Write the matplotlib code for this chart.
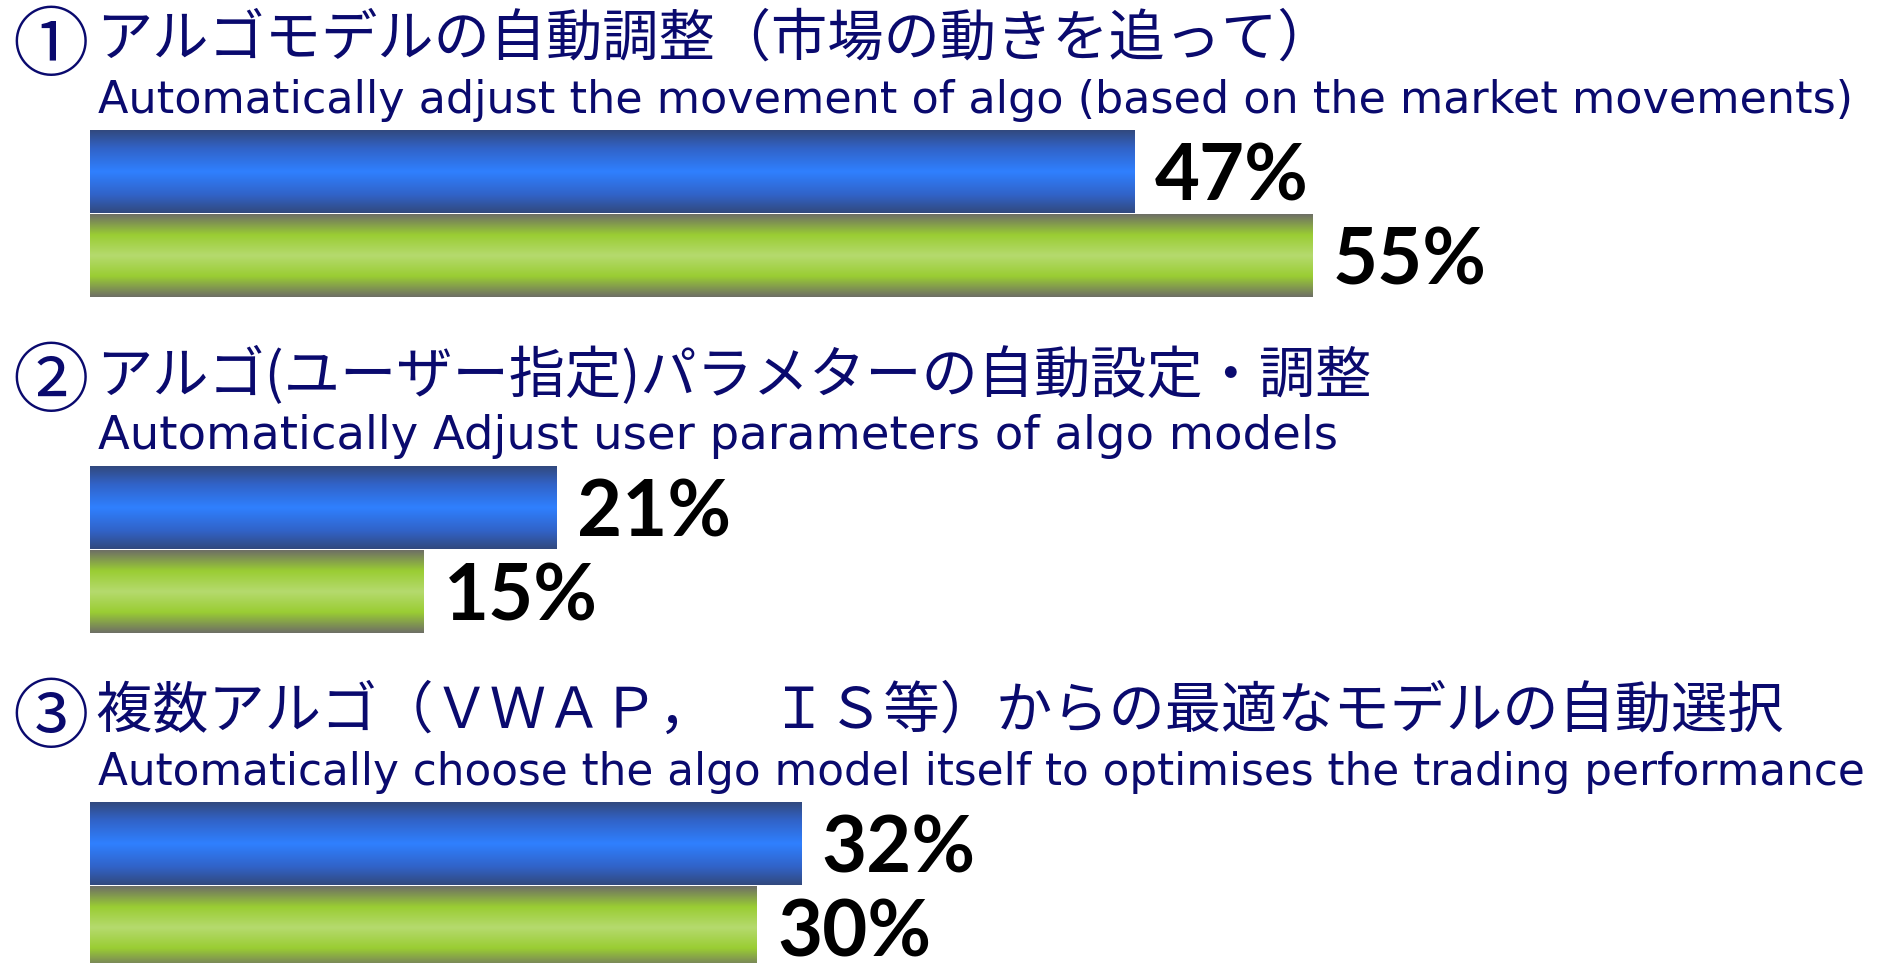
import numpy as np
import matplotlib
matplotlib.use("Agg")
import matplotlib.pyplot as plt
from matplotlib.colors import LinearSegmentedColormap
from matplotlib import transforms

plt.rcParams['font.family'] = ['Noto Sans CJK JP', 'DejaVu Sans']

# --- data -------------------------------------------------------------
markers = ["①", "②", "③"]
titles_jp = [
    "アルゴモデルの自動調整（市場の動きを追って）",
    "アルゴ(ユーザー指定)パラメターの自動設定・調整",
    "複数アルゴ（ＶＷＡＰ，　ＩＳ等）からの最適なモデルの自動選択",
]
titles_en = [
    "Automatically adjust the movement of algo (based on the market movements)",
    "Automatically Adjust user parameters of algo models",
    "Automatically choose the algo model itself to optimises the trading performance",
]
share_blue = [47, 21, 32]
share_green = [55, 15, 30]

# --- layout -----------------------------------------------------------
W, H, DPI = 1881, 963, 100
NAVY = "#0a0a6e"
PCT_PX = 22.22      # pixels per percentage point
X0 = 90             # pixel position of 0 %
GROUP = 336         # vertical pitch between question blocks (px)
BAR_H = 82.7
BAR_STEP = 84.0
FIRST_BAR_TOP = 130
EN_SIZES = [32, 33.5, 31.5]

fig = plt.figure(figsize=(W / DPI, H / DPI), dpi=DPI)
ax = fig.add_axes([0, 0, 1, 1])
ax.axis("off")

blue_y = [FIRST_BAR_TOP + BAR_H / 2 + GROUP * i for i in range(len(share_blue))]
green_y = [y + BAR_STEP for y in blue_y]

blue_bars = ax.barh(blue_y, share_blue, height=BAR_H, left=0, color="none", zorder=2)
green_bars = ax.barh(green_y, share_green, height=BAR_H, left=0, color="none", zorder=2)

blue_cmap = LinearSegmentedColormap.from_list(
    "tube_blue",
    [(0.0, "#32497e"), (0.22, "#3163c8"), (0.5, "#2f80ff"), (0.78, "#3163c8"), (1.0, "#32497e")],
)
green_cmap = LinearSegmentedColormap.from_list(
    "tube_green",
    [(0.0, "#6e6e66"), (0.25, "#9acd33"), (0.5, "#b5da6e"), (0.75, "#9acd33"), (1.0, "#6e6e66")],
)
grad = np.linspace(0, 1, 256).reshape(-1, 1)


def fill_gradient(bars, cmap):
    for b in bars:
        x, y = b.get_x(), b.get_y()
        w, h = b.get_width(), b.get_height()
        im = ax.imshow(grad, cmap=cmap, aspect="auto", interpolation="bicubic",
                       extent=(x, x + w, y + h, y), zorder=1)
        im.set_clip_path(b)


fill_gradient(blue_bars, blue_cmap)
fill_gradient(green_bars, green_cmap)

ax.set_xlim(-X0 / PCT_PX, (W - X0) / PCT_PX)
ax.set_ylim(H, 0)

label_kw = dict(padding=15, fontsize=56, fontweight="bold", family="Lato", color="black")
for bars, vals in ((blue_bars, share_blue), (green_bars, share_green)):
    for t in ax.bar_label(bars, labels=[f"{v}%" for v in vals], **label_kw):
        t.set_verticalalignment("center_baseline")

# headings: x in figure fraction, y in pixel rows
tr = transforms.blended_transform_factory(ax.transAxes, ax.transData)
for i in range(len(titles_jp)):
    base = GROUP * i
    ax.text(12 / W, 48 + base, markers[i], transform=tr, fontsize=55, color=NAVY, va="center")
    ax.text(96 / W, 56 + base, titles_jp[i], transform=tr, fontsize=40.5, color=NAVY, va="baseline")
    ax.text(98 / W, 113 + base, titles_en[i], transform=tr, fontsize=EN_SIZES[i], color=NAVY,
            va="baseline", family="DejaVu Sans")

fig.savefig("out.png", dpi=DPI)
